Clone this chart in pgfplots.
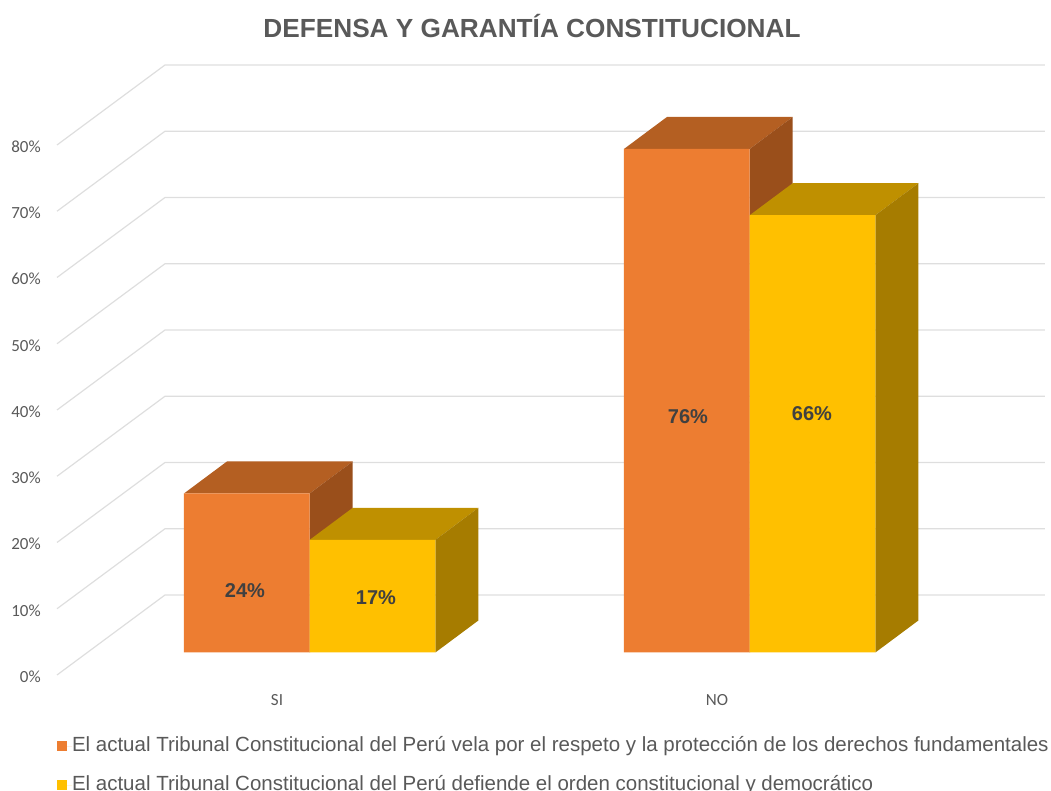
\documentclass[border=0pt]{standalone}
\usepackage{pgfplots}
\pgfplotsset{compat=1.18}
\usepackage{fontspec}
\setmainfont{Liberation Sans}
\newfontfamily\carl{Carlito}
\definecolor{gridc}{HTML}{DEDEDE}
\definecolor{txt}{HTML}{595959}
\definecolor{lab}{HTML}{404040}
\definecolor{orF}{HTML}{ED7D31}
\definecolor{orT}{HTML}{B45F22}
\definecolor{orS}{HTML}{9A4F1B}
\definecolor{yeF}{HTML}{FFC000}
\definecolor{yeT}{HTML}{BF9000}
\definecolor{yeS}{HTML}{A67C00}
\begin{document}
\begin{tikzpicture}
\path[use as bounding box] (0,0) rectangle (788.25pt,593.25pt);
\clip (0,0) rectangle (788.25pt,593.25pt);
% walls: percent scale of the front edge
\begin{axis}[
  at={(42.75pt,87pt)}, anchor=south west,
  scale only axis, width=660pt, height=397.5pt,
  xmin=-0.5, xmax=1.5, ymin=0, ymax=80, clip=false,
  axis line style={draw=none}, tick style={draw=none},
  xtick={0,1}, xticklabels={SI,NO},
  ytick={0,10,20,30,40,50,60,70,80},
  yticklabels={0\%,10\%,20\%,30\%,40\%,50\%,60\%,70\%,80\%},
  yticklabel style={font=\carl\fontsize{12.75pt}{14pt}\selectfont, text=txt, inner sep=0pt, xshift=-12pt, yshift=-1.3pt},
  xticklabel style={font=\carl\fontsize{12.75pt}{14pt}\selectfont, text=txt, inner sep=0pt, yshift=-14.5pt},
  title={DEFENSA Y GARANTÍA CONSTITUCIONAL},
  title style={at={(axis description cs:0.5398,1.2208)}, anchor=center, inner sep=0pt, yshift=-4.5pt,
    font=\bfseries\fontsize{19.65pt}{22pt}\selectfont, text=txt},
]
\addplot[gridc, line width=0.9pt] coordinates {(-0.5,0) (-0.2545,12.08) (1.745,12.08)};
\addplot[gridc, line width=0.9pt] coordinates {(-0.5,10) (-0.2545,22.08) (1.745,22.08)};
\addplot[gridc, line width=0.9pt] coordinates {(-0.5,20) (-0.2545,32.08) (1.745,32.08)};
\addplot[gridc, line width=0.9pt] coordinates {(-0.5,30) (-0.2545,42.08) (1.745,42.08)};
\addplot[gridc, line width=0.9pt] coordinates {(-0.5,40) (-0.2545,52.08) (1.745,52.08)};
\addplot[gridc, line width=0.9pt] coordinates {(-0.5,50) (-0.2545,62.08) (1.745,62.08)};
\addplot[gridc, line width=0.9pt] coordinates {(-0.5,60) (-0.2545,72.08) (1.745,72.08)};
\addplot[gridc, line width=0.9pt] coordinates {(-0.5,70) (-0.2545,82.08) (1.745,82.08)};
\addplot[gridc, line width=0.9pt] coordinates {(-0.5,80) (-0.2545,92.08) (1.745,92.08)};
\end{axis}
% bars: same scale, on the plane inside the box
\begin{axis}[
  at={(42.75pt,87pt)}, anchor=south west,
  scale only axis, width=660pt, height=397.5pt,
  xmin=-0.5743, xmax=1.4257, ymin=-3.4, ymax=76.6, clip=false,
  hide axis,
  bar width=0.2857,
  legend cell align=left,
  legend image code/.code={\path (0pt,0pt) -- (11.25pt,0pt); \fill[#1] (0pt,-3.75pt) rectangle (7.5pt,3.75pt);},
  legend style={at={(axis cs:-0.5743,-12.8)}, anchor=north west, draw=none, fill=none,
    inner sep=0pt, outer sep=0pt, row sep=15.75pt,
    font=\fontsize{15.37pt}{17pt}\selectfont, text=txt,
    nodes={inner sep=0pt, outer sep=0pt, text height=10.5pt, text depth=3pt, anchor=west}},
]
% orange: top and side faces
\addplot[fill=orT, draw=none, forget plot] coordinates {(-0.2857,24) (0,24) (0.0977,28.83) (-0.188,28.83)} -- cycle;
\addplot[fill=orS, draw=none, forget plot] coordinates {(0,0) (0.0977,4.83) (0.0977,28.83) (0,24)} -- cycle;
\addplot[fill=orT, draw=none, forget plot] coordinates {(0.7143,76) (1,76) (1.0977,80.83) (0.812,80.83)} -- cycle;
\addplot[fill=orS, draw=none, forget plot] coordinates {(1,0) (1.0977,4.83) (1.0977,80.83) (1,76)} -- cycle;
% orange: front faces
\addplot[ybar, draw=none, fill=orF, bar shift=-0.14285] coordinates {(0,24) (1,76)};
\addlegendentry{El actual Tribunal Constitucional del Perú vela por el respeto y la protección de los derechos fundamentales}
% yellow: top and side faces
\addplot[fill=yeT, draw=none, forget plot] coordinates {(0,17) (0.2857,17) (0.3834,21.83) (0.0977,21.83)} -- cycle;
\addplot[fill=yeS, draw=none, forget plot] coordinates {(0.2857,0) (0.3834,4.83) (0.3834,21.83) (0.2857,17)} -- cycle;
\addplot[fill=yeT, draw=none, forget plot] coordinates {(1,66) (1.2857,66) (1.3834,70.83) (1.0977,70.83)} -- cycle;
\addplot[fill=yeS, draw=none, forget plot] coordinates {(1.2857,0) (1.3834,4.83) (1.3834,70.83) (1.2857,66)} -- cycle;
% yellow: front faces
\addplot[ybar, draw=none, fill=yeF, bar shift=0.14285] coordinates {(0,17) (1,66)};
\addlegendentry{El actual Tribunal Constitucional del Perú defiende el orden constitucional y democrático}
% value labels
\node[font=\bfseries\fontsize{15pt}{16pt}\selectfont, text=lab] at (axis cs:-0.147,9.28) {24\%};
\node[font=\bfseries\fontsize{15pt}{16pt}\selectfont, text=lab] at (axis cs:0.1507,8.23) {17\%};
\node[font=\bfseries\fontsize{15pt}{16pt}\selectfont, text=lab] at (axis cs:0.8598,35.55) {76\%};
\node[font=\bfseries\fontsize{15pt}{16pt}\selectfont, text=lab] at (axis cs:1.1416,36) {66\%};
\end{axis}
\end{tikzpicture}
\end{document}
